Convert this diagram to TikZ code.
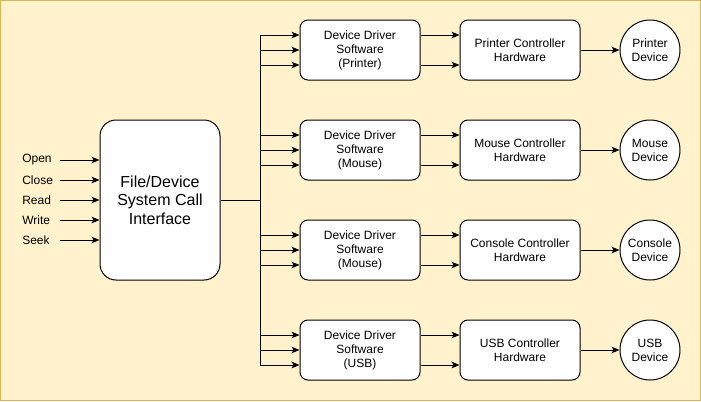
\documentclass[tikz,border=0pt]{standalone}
\usepackage{fontspec}
\setmainfont{Liberation Sans}
\usetikzlibrary{arrows.meta,calc}
\definecolor{bgc}{HTML}{FFF2CC}
\definecolor{bdc}{HTML}{D6B656}
\begin{document}
\begin{tikzpicture}[x=0.75pt,y=-0.75pt,
  every node/.style={font=\fontsize{9}{10.5}\selectfont},
  line/.style={line width=0.75pt},
  arr/.style={line width=0.75pt,-{Stealth[length=6pt,width=5pt,inset=1.5pt]}},
  box/.style={draw,line width=0.75pt,fill=white,rounded corners=6pt,minimum width=90pt,minimum height=45pt,inner sep=0pt,align=center},
  bigbox/.style={draw,line width=0.75pt,fill=white,rounded corners=12pt,minimum width=90pt,minimum height=120pt,inner sep=0pt,align=center,font=\fontsize{12}{14}\selectfont},
  dev/.style={draw,line width=0.75pt,fill=white,circle,minimum size=45pt,inner sep=0pt,align=center},
  lbl/.style={anchor=west,inner sep=0pt}]
\useasboundingbox (0,0) rectangle (701,401);
\draw[fill=bgc,draw=bdc,line width=0.75pt] (0.5,0.5) rectangle (700.5,400.5);

\node[bigbox] (main) at (160,200) {File/Device\\System Call\\Interface};

\foreach \t/\yy/\n in {Open/160/l1,Close/180/l2,Read/200/l3,Write/220/l4,Seek/240/l5}{
  \node[lbl] (\n) at (22,\yy) {\t};
  \coordinate (\n s) at (60,\yy);
  \draw[arr] (\n s) -- (main.west |- \n s);
}

\node[box] (d1) at (360,50) {Device Driver\\Software\\(Printer)};
\node[box] (d2) at (360,150) {Device Driver\\Software\\(Mouse)};
\node[box] (d3) at (360,250) {Device Driver\\Software\\(Mouse)};
\node[box] (d4) at (360,350) {Device Driver\\Software\\(USB)};

\node[box] (c1) at (520,50) {Printer Controller\\Hardware};
\node[box] (c2) at (520,150) {Mouse Controller\\Hardware};
\node[box] (c3) at (520,250) {Console Controller\\Hardware};
\node[box] (c4) at (520,350) {USB Controller\\Hardware};

\node[dev] (v1) at (650,50) {Printer\\Device};
\node[dev] (v2) at (650,150) {Mouse\\Device};
\node[dev] (v3) at (650,250) {Console\\Device};
\node[dev] (v4) at (650,350) {USB\\Device};

\coordinate (bj) at (260,200);
\coordinate (bt) at (260,35);
\coordinate (bb) at (260,365);
\draw[line] (main.east) -- (bj);
\draw[line] (bt) -- (bb);

\foreach \i in {1,2,3,4}{
  \coordinate (ia\i) at ($(d\i.west)+(0,-15)$);
  \coordinate (ib\i) at (d\i.west);
  \coordinate (ic\i) at ($(d\i.west)+(0,15)$);
  \coordinate (oa\i) at ($(d\i.east)+(0,-15)$);
  \coordinate (ob\i) at ($(d\i.east)+(0,15)$);
  \draw[arr] (bj |- ia\i) -- (ia\i);
  \draw[arr] (bj |- ib\i) -- (ib\i);
  \draw[arr] (bj |- ic\i) -- (ic\i);
  \draw[arr] (oa\i) -- (c\i.west |- oa\i);
  \draw[arr] (ob\i) -- (c\i.west |- ob\i);
  \draw[arr] (c\i.east) -- (v\i.west);
}
\end{tikzpicture}
\end{document}
